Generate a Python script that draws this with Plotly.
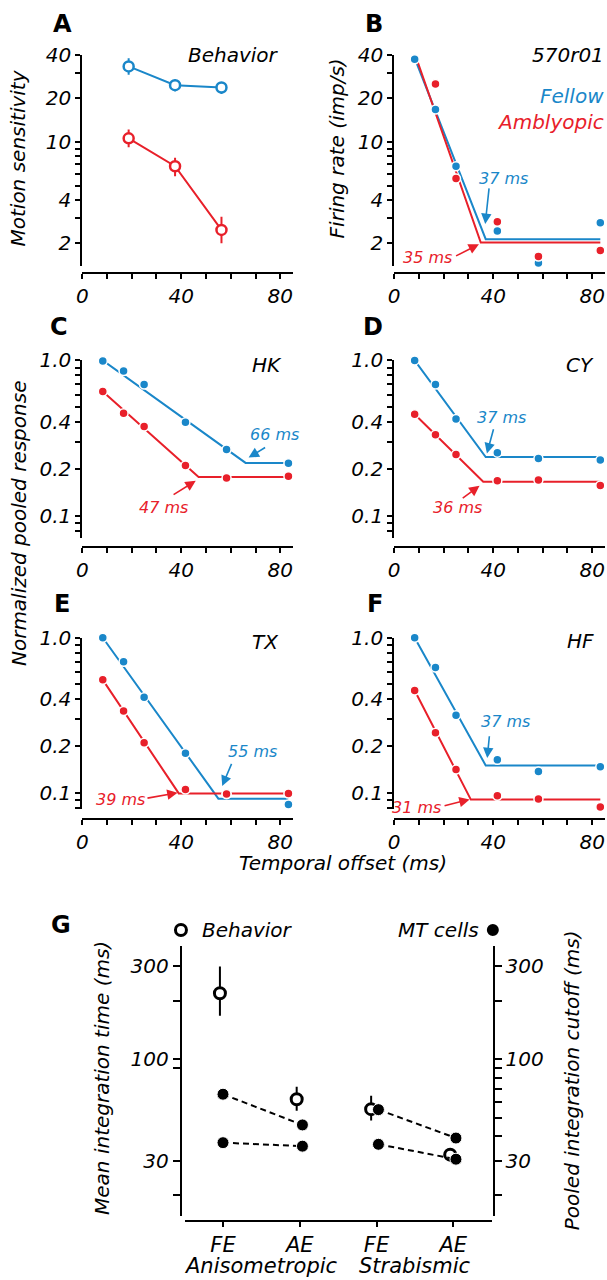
import numpy as np
import plotly.graph_objects as go

W, H = 607, 1280
BLUE = "#1a87c9"
RED = "#e8202a"
FONT = "DejaVu Sans"

# ---------------- data ----------------
# Panel A (behavior): temporal offset (ms) vs motion sensitivity
a_offsets = [18.75, 37.5, 56.25]
a_fellow = [33.3, 24.7, 23.8]
a_fellow_hi = [37.9, 27.0, 25.9]
a_fellow_lo = [29.2, 22.4, 21.5]
a_amb = [10.6, 6.8, 2.47]
a_amb_hi = [12.2, 7.8, 3.04]
a_amb_lo = [9.2, 5.8, 2.0]

# Panels B-F: temporal offsets (ms)
offsets = [8.3, 16.7, 25.0, 41.7, 58.3, 83.3]
b_fellow = [37.3, 16.8, 6.8, 2.43, 1.46, 2.77]
b_amb = [40.8, 25.2, 5.6, 2.81, 1.62, 1.78]
c_fellow = [0.99, 0.855, 0.70, 0.40, 0.267, 0.218]
c_amb = [0.63, 0.457, 0.376, 0.211, 0.175, 0.18]
d_fellow = [1.0, 0.70, 0.42, 0.255, 0.234, 0.229]
d_amb = [0.45, 0.333, 0.248, 0.168, 0.170, 0.157]
e_fellow = [1.0, 0.70, 0.414, 0.18, 0.098, 0.084]
e_amb = [0.535, 0.337, 0.21, 0.105, 0.098, 0.0987]
f_fellow = [1.0, 0.643, 0.316, 0.163, 0.137, 0.147]
f_amb = [0.457, 0.244, 0.141, 0.0957, 0.091, 0.081]

# fits: [value at first offset, cutoff (ms), floor value]
b_fit_fellow = [38.0, 37, 2.13]
b_fit_amb = [41.0, 35, 2.02]
c_fit_fellow = [1.0, 66, 0.219]
c_fit_amb = [0.63, 47, 0.178]
d_fit_fellow = [1.0, 37, 0.239]
d_fit_amb = [0.45, 36, 0.166]
e_fit_fellow = [1.0, 55, 0.0916]
e_fit_amb = [0.535, 39, 0.099]
f_fit_fellow = [1.0, 37, 0.150]
f_fit_amb = [0.457, 31, 0.0903]

panel_names = ["570r01", "HK", "CY", "TX", "HF"]

# Panel G
g_eyes = ["FE", "AE", "FE", "AE"]
g_groups = ["Anisometropic", "Strabismic"]
g_beh = [218, 62.1, 55.2, 32.2]
g_beh_hi = [300, 72.1, 64.7, 34.5]
g_beh_lo = [167, 54.2, 48.2, 30.1]
g_mt_a = [65.9, 45.8, 54.9, 39.2]
g_mt_b = [37.1, 35.6, 36.4, 30.5]
g_beh_nudge = [-0.04, -0.04, -0.07, -0.04]
g_mt_nudge = [0.0, 0.035, 0.025, 0.035]


def fx(px):
    return px / W


def fy(py):
    return 1 - py / H


fig = go.Figure()
ann = []
shapes = []


def txt(x, y, s, size=20, color="black", xanchor="center", italic=True,
        bold=False, angle=0):
    ann.append(dict(x=fx(x), y=fy(y), xref="paper", yref="paper", text=s,
                    showarrow=False, xanchor=xanchor, yanchor="middle",
                    textangle=angle, borderpad=0,
                    font=dict(family=FONT, size=size, color=color,
                              style="italic" if italic else "normal",
                              weight="bold" if bold else "normal")))


tickfont = dict(family=FONT, size=20, color="black", style="italic")
base_axis = dict(showline=True, linecolor="black", linewidth=2,
                 ticks="outside", ticklen=5, tickwidth=1.5, tickcolor="black",
                 showgrid=False, zeroline=False, tickfont=tickfont)

# geometry: suffix, x-left, x-right, y-top, y-bottom, ylo, yhi, x-axis line
geo = [
    ("", 77, 290, 43.3, 256, 1.4, 40, 263),
    ("2", 392, 605, 43.3, 256, 1.4, 40, 263),
    ("3", 77, 290, 351.7, 531, 0.072, 1.0, 540),
    ("4", 392, 605, 351.7, 531, 0.072, 1.0, 540),
    ("5", 77, 290, 631.7, 805, 0.078, 1.0, 815),
    ("6", 392, 605, 631.7, 805, 0.078, 1.0, 815),
]
xt_vals = list(range(0, 90, 10))
xt_text = ["0" if v == 0 else ("40" if v == 40 else ("80" if v == 80 else "")) for v in xt_vals]
yt_ab = [2, 3, 4, 5, 6, 7, 8, 9, 10, 20, 30, 40]
yt_ab_text = ["2", "", "4", "", "", "", "", "", "10", "20", "", "40"]
yt_cf = [0.08, 0.09, 0.1, 0.2, 0.3, 0.4, 0.5, 0.6, 0.7, 0.8, 0.9, 1.0]
yt_cf_text = ["", "", "0.1", "0.2", "", "0.4", "", "", "", "", "", "1.0"]

layout_axes = {}
for i, (s, xl, xr, yt, yb, ylo, yhi, xline) in enumerate(geo):
    layout_axes["xaxis" + s] = dict(base_axis, domain=[fx(xl), fx(xr)],
                                    range=[0, (xr - xl) / 2.5], anchor="free",
                                    position=fy(xline), tickvals=xt_vals,
                                    ticktext=xt_text)
    ab = i < 2
    layout_axes["yaxis" + s] = dict(base_axis, domain=[fy(yb), fy(yt)],
                                    type="log",
                                    range=[np.log10(ylo), np.log10(yhi)],
                                    anchor="x" + s,
                                    tickvals=yt_ab if ab else yt_cf,
                                    ticktext=yt_ab_text if ab else yt_cf_text)

# ---- Panel A ----
for vals, hi, lo, col in [(a_fellow, a_fellow_hi, a_fellow_lo, BLUE),
                          (a_amb, a_amb_hi, a_amb_lo, RED)]:
    fig.add_trace(go.Scatter(
        x=a_offsets, y=vals, mode="lines+markers", xaxis="x", yaxis="y",
        line=dict(color=col, width=2),
        marker=dict(size=10, color="white", line=dict(color=col, width=2.5)),
        error_y=dict(type="data", symmetric=False,
                     array=[h - v for h, v in zip(hi, vals)],
                     arrayminus=[v - l for v, l in zip(vals, lo)],
                     color=col, thickness=2, width=0),
        cliponaxis=False, showlegend=False))

# ---- Panels B-F ----
sets = [
    ("2", b_fellow, b_amb, b_fit_fellow, b_fit_amb),
    ("3", c_fellow, c_amb, c_fit_fellow, c_fit_amb),
    ("4", d_fellow, d_amb, d_fit_fellow, d_fit_amb),
    ("5", e_fellow, e_amb, e_fit_fellow, e_fit_amb),
    ("6", f_fellow, f_amb, f_fit_fellow, f_fit_amb),
]
# annotation placement (pixel offsets from the fit knee; dy down-positive):
# text (dx, dy), arrow tip (dx, dy), tail relative to tip (ax, ay)
arrow_style = {
    ("2", 0): ((18.2, -61.0), (-0.5, -15.3), (4, -37)),
    ("2", 1): ((-52.8, 14.7), (-1.8, 1.7), (-24.4, 12.4)),
    ("3", 0): ((29, -28.6), (3, -5.3), (18, -11)),
    ("3", 1): ((-35.2, 30.6), (-2.8, 3.9), (-23.7, 14.7)),
    ("4", 0): ((15.5, -39.3), (1.2, -3.6), (7, -25.7)),
    ("4", 1): ((-25.3, 25.9), (-3.7, 4.2), (-18.3, 13.4)),
    ("5", 0): ((33.8, -47.6), (3.8, -12.6), (10, -23.7)),
    ("5", 1): ((-57.8, 6.0), (-1.2, -0.7), (-31.6, 5.7)),
    ("6", 0): ((19.5, -44.0), (1.5, -7.4), (2.3, -23.3)),
    ("6", 1): ((-54.5, 8.1), (-1.2, -0.2), (-26.6, 6.7)),
}
for s, fel, amb, ffit, afit in sets:
    xa, ya = "x" + s, "y" + s
    for fit, col in [(ffit, BLUE), (afit, RED)]:
        fig.add_trace(go.Scatter(
            x=[offsets[0], fit[1], offsets[-1]], y=[fit[0], fit[2], fit[2]],
            mode="lines", line=dict(color=col, width=2), xaxis=xa, yaxis=ya,
            cliponaxis=False, showlegend=False))
    for vals, col in [(fel, BLUE), (amb, RED)]:
        fig.add_trace(go.Scatter(
            x=offsets, y=vals, mode="markers", xaxis=xa, yaxis=ya,
            marker=dict(size=9, color=col, line=dict(color="white", width=1.5)),
            cliponaxis=False, showlegend=False))
    for k, (fit, col) in enumerate([(ffit, BLUE), (afit, RED)]):
        (tdx, tdy), (pdx, pdy), (ax, ay) = arrow_style[(s, k)]
        ann.append(dict(x=fit[1], y=np.log10(fit[2]), xref=xa, yref=ya,
                        text="%d ms" % fit[1], showarrow=False,
                        xshift=tdx, yshift=-tdy, xanchor="center",
                        yanchor="middle", borderpad=0,
                        font=dict(family=FONT, size=16, color=col,
                                  style="italic")))
        ann.append(dict(x=fit[1], y=np.log10(fit[2]), xref=xa, yref=ya,
                        text="", showarrow=True, arrowhead=2, arrowsize=1.3,
                        arrowwidth=1.6, arrowcolor=col, standoff=0,
                        xshift=pdx, yshift=-pdy, ax=ax, ay=ay))

# ---- Panel G ----
gx = [1, 2, 3, 4]
layout_axes["xaxis7"] = dict(base_axis, domain=[fx(180.4), fx(490.5)],
                             range=[0.5, 4.5], anchor="free", position=fy(1220),
                             tickvals=gx, ticktext=g_eyes,
                             tickfont=dict(tickfont, size=21))
g_ticks_l = [20, 30, 90, 100, 200, 300]
g_ticks_r = [20, 30, 40, 50, 60, 70, 80, 90, 100, 200, 300]
lab = {30: "30", 100: "100", 300: "300"}
g_range = [np.log10(15.5), np.log10(384)]
layout_axes["yaxis7"] = dict(base_axis, domain=[fy(1215.7), fy(942.4)],
                             type="log", range=g_range, anchor="free",
                             position=fx(176.5), tickvals=g_ticks_l,
                             ticktext=[lab.get(v, "") for v in g_ticks_l],
                             ticklen=7)
layout_axes["yaxis8"] = dict(base_axis, overlaying="y7", side="right",
                             type="log", range=g_range, anchor="free",
                             position=fx(492.4), tickvals=g_ticks_r,
                             ticktext=[lab.get(v, "") for v in g_ticks_r],
                             ticklen=7)

fig.add_trace(go.Scatter(
    x=[g + n for g, n in zip(gx, g_beh_nudge)], y=g_beh, mode="markers",
    xaxis="x7", yaxis="y7",
    marker=dict(size=11, color="white", line=dict(color="black", width=3)),
    error_y=dict(type="data", symmetric=False,
                 array=[h - v for h, v in zip(g_beh_hi, g_beh)],
                 arrayminus=[v - l for v, l in zip(g_beh, g_beh_lo)],
                 color="black", thickness=2, width=0),
    cliponaxis=False, showlegend=False))
for mt in [g_mt_a, g_mt_b]:
    xs = [g + n for g, n in zip(gx, g_mt_nudge)]
    fig.add_trace(go.Scatter(
        x=[xs[0], xs[1], None, xs[2], xs[3]],
        y=[mt[0], mt[1], None, mt[2], mt[3]], mode="lines",
        line=dict(color="black", width=2, dash="6px,4px"),
        xaxis="x7", yaxis="y8", cliponaxis=False, showlegend=False))
for mt in [g_mt_a, g_mt_b]:
    fig.add_trace(go.Scatter(
        x=[g + n for g, n in zip(gx, g_mt_nudge)], y=mt, mode="markers",
        xaxis="x7", yaxis="y8",
        marker=dict(size=12, color="black", line=dict(color="white", width=1)),
        cliponaxis=False, showlegend=False))

for k, grp in enumerate(g_groups):
    ann.append(dict(x=1.5 + 2 * k, y=fy(1266), xref="x7", yref="paper",
                    text=grp, showarrow=False, xanchor="center",
                    yanchor="middle", borderpad=0,
                    font=dict(family=FONT, size=21, color="black",
                              style="italic")))

# legend glyphs for G
shapes.append(dict(type="circle", xref="paper", yref="paper",
                   xsizemode="pixel", ysizemode="pixel",
                   xanchor=fx(176.7), yanchor=fy(926.7),
                   x0=-5.5, x1=5.5, y0=-5.5, y1=5.5,
                   line=dict(color="black", width=3), fillcolor="white"))
shapes.append(dict(type="circle", xref="paper", yref="paper",
                   xsizemode="pixel", ysizemode="pixel",
                   xanchor=fx(491.7), yanchor=fy(926.7),
                   x0=-6, x1=6, y0=-6, y1=6,
                   line=dict(color="black", width=0), fillcolor="black"))
txt(196.7, 926.7, "Behavior", xanchor="left")
txt(478.3, 926.7, "MT cells", xanchor="right")

# ---- text labels ----
for letter, (x, y) in zip("ABCDEFG", [(57, 12.3), (371.7, 12), (54, 318),
                                       (371, 318), (56.7, 598), (372.5, 598),
                                       (56, 922)]):
    txt(x, y, letter, size=24, italic=False, bold=True)

txt(276.7, 43.7, "Behavior", xanchor="right")
txt(605, 43.7, panel_names[0], xanchor="right")
txt(605, 85, "Fellow", xanchor="right", color=BLUE)
txt(605, 111, "Amblyopic", xanchor="right", color=RED)
txt(279.3, 356, panel_names[1], xanchor="right")
txt(595, 356, panel_names[2], xanchor="right")
txt(276.7, 635.7, panel_names[3], xanchor="right")
txt(595, 635, panel_names[4], xanchor="right")

txt(12, 147, "Motion sensitivity", angle=-90)
txt(334, 138, "Firing rate (imp/s)", angle=-90)
txt(13, 516, "Normalized pooled response", angle=-90)
txt(340, 859, "Temporal offset (ms)")
txt(97, 1076, "Mean integration time (ms)", angle=-90)
txt(572, 1078, "Pooled integration cutoff (ms)", angle=-90)

fig.update_layout(width=W, height=H, margin=dict(l=0, r=0, t=0, b=0),
                  paper_bgcolor="white", plot_bgcolor="white",
                  showlegend=False, annotations=ann, shapes=shapes,
                  font=dict(family=FONT), **layout_axes)
fig.write_html("out.html", config={"displayModeBar": False},
               post_script="document.body.style.margin='0px';"
                           "document.body.style.overflow='hidden';")
